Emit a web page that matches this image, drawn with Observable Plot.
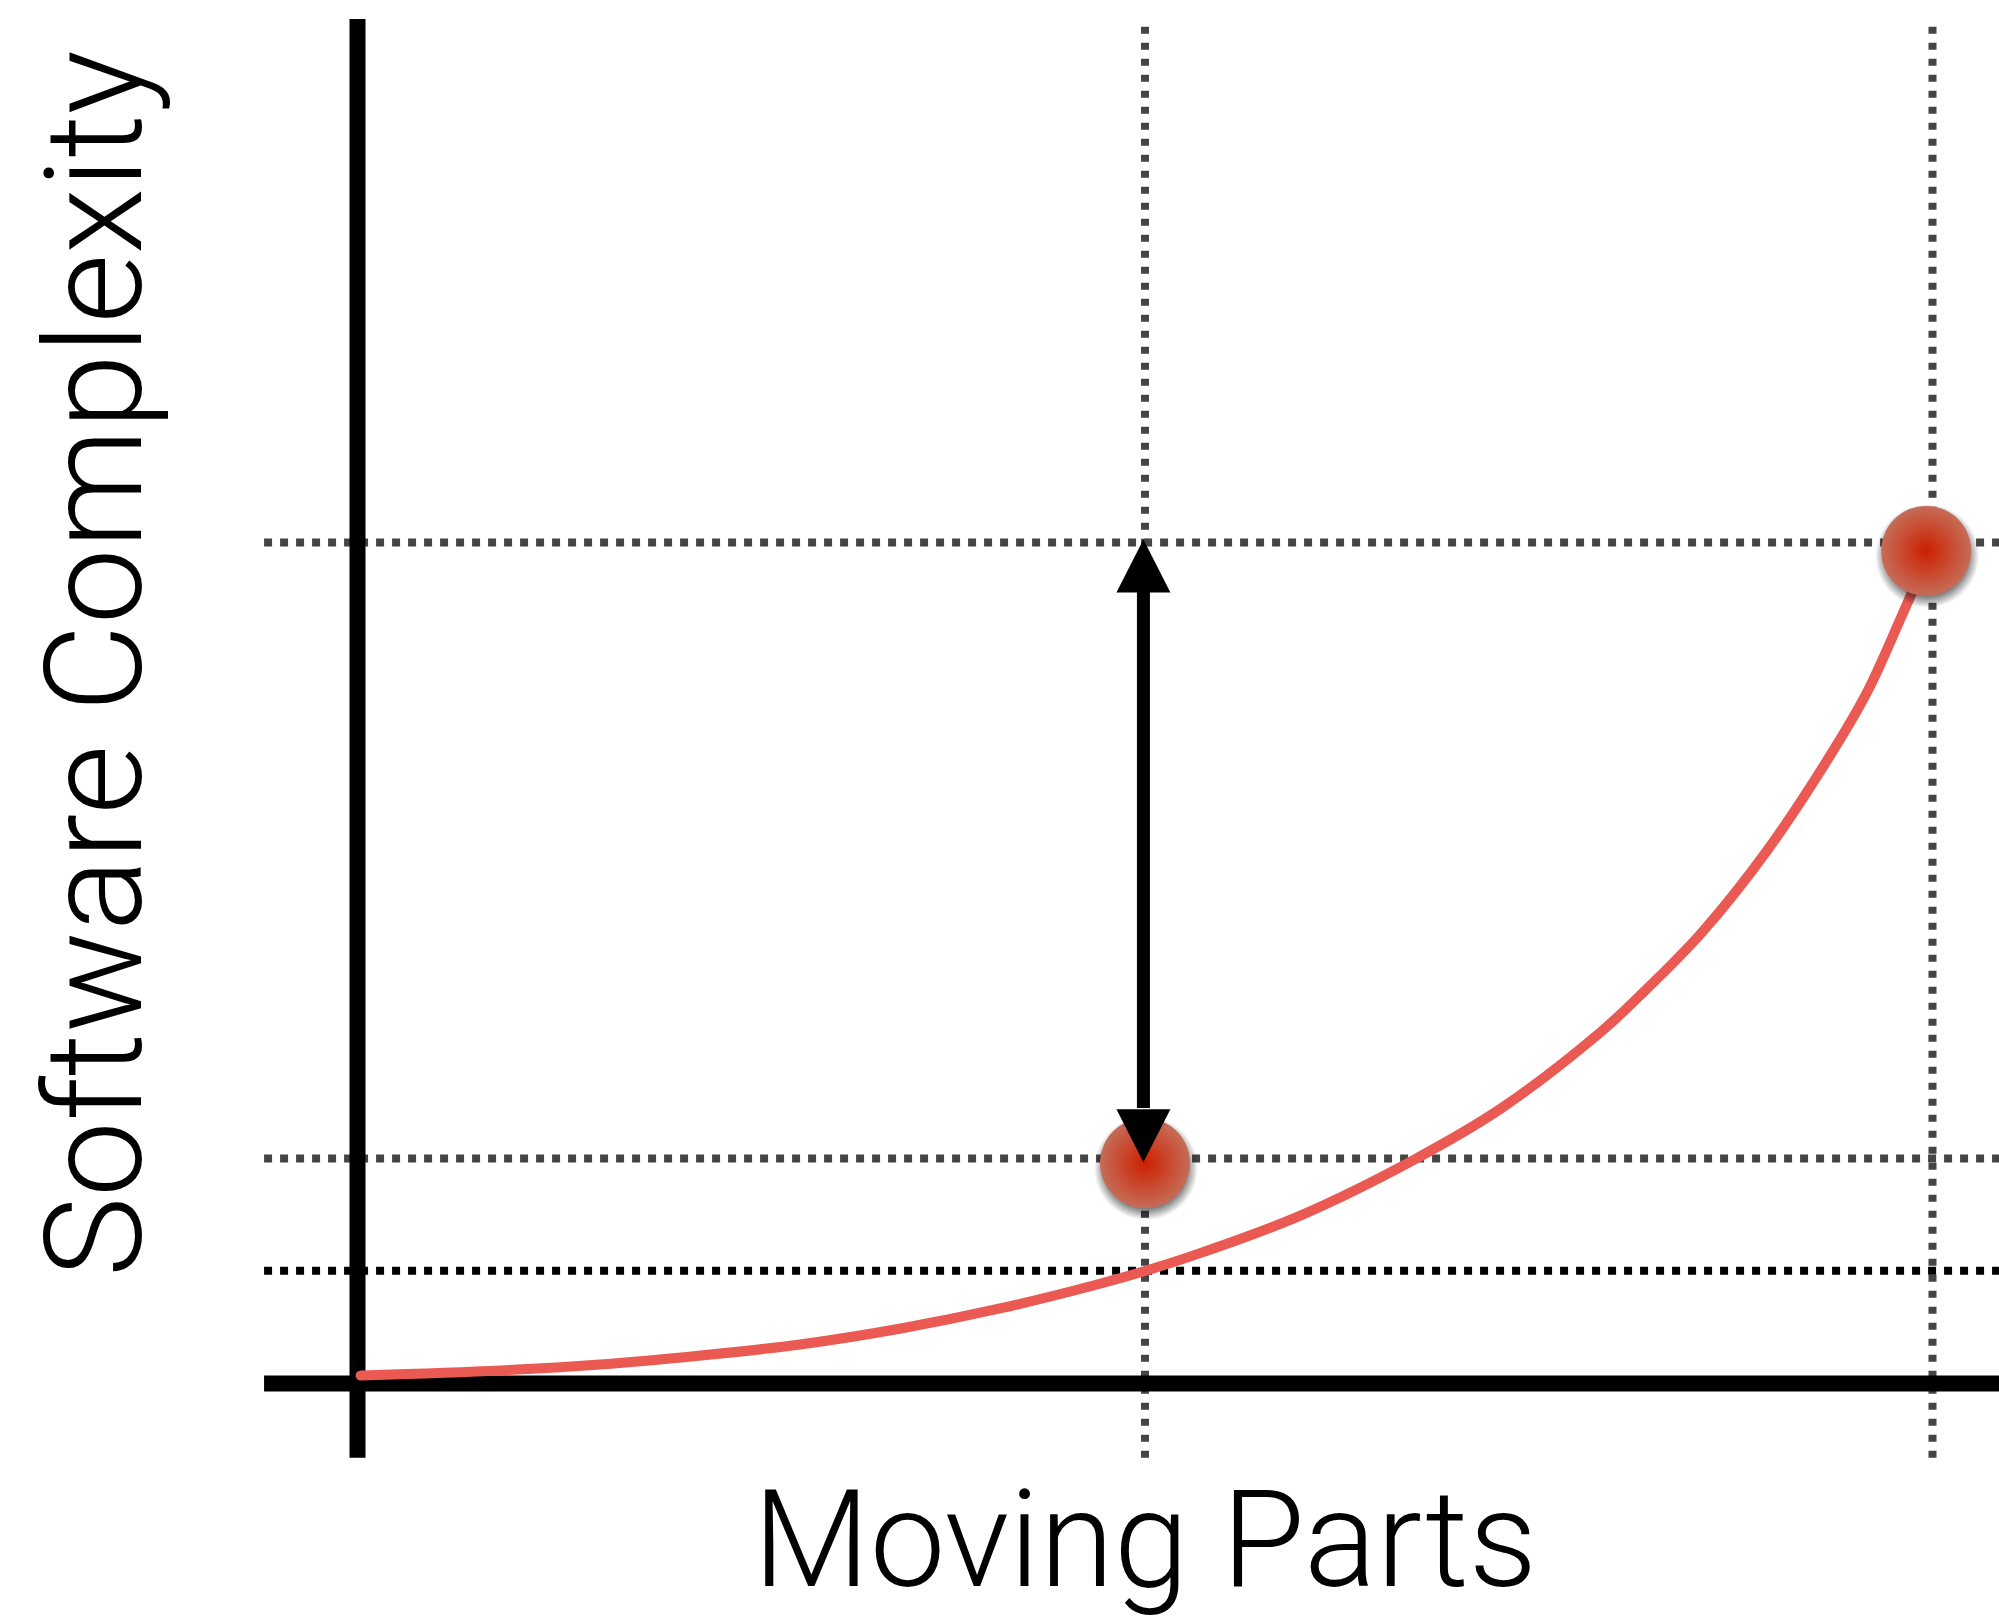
<!DOCTYPE html>
<html>
<head>
<meta charset="utf-8">
<script src="https://cdn.jsdelivr.net/npm/d3@7"></script>
<script src="https://cdn.jsdelivr.net/npm/@observablehq/plot@0.6"></script>
<style>
  html, body { margin: 0; padding: 0; background: #fff; }
  #chart svg { display: block; }
</style>
</head>
<body>
<div id="chart"></div>
<script>
// ---- data ----
const curveX = [0.02, 0.91, 1.54, 2.18, 2.81, 3.45, 4.08, 4.72, 5.01, 5.35, 5.99, 6.71, 7.26, 7.89, 8.13, 8.53, 8.95, 9.37, 9.59, 9.80, 9.87];
const curveY = [0.95, 1.55, 2.26, 3.33, 4.64, 6.54, 8.92, 11.89, 13.44, 15.5, 20.0, 26.63, 32.7, 41.74, 45.9, 53.51, 63.38, 75.27, 82.4, 91.08, 94.05];
const pointX = [5, 9.96];
const pointY = [26.2, 99];
const guideX = [5, 10];           // vertical dotted guides
const guideYGray = [100, 26.75];  // gray dotted horizontal guides
const guideYBlack = [13.4];       // black dotted horizontal guide
const arrowX = [4.99];
const arrowTop = [100.36];
const arrowBottom = [26.3];
const xLabel = ["Moving Parts"];
const yLabel = ["Software Complexity"];

const curve = curveX.map((x, i) => ({x, y: curveY[i]}));
const points = pointX.map((x, i) => ({x, y: pointY[i]}));

const triangle = {
  draw(context, l, r) {
    context.moveTo(0, -l);
    context.lineTo(-r, 0);
    context.lineTo(r, 0);
    context.closePath();
  }
};

const headLen = 53;
const labelFont = "Roboto, 'Liberation Sans', sans-serif";

const svg = Plot.plot({
  width: 1999,
  height: 1621,
  margin: 0,
  x: {domain: [0, 10], range: [357, 1932], axis: null},
  y: {domain: [0, 100], range: [1383, 542], axis: null},
  marks: [
    // dotted guides
    Plot.ruleX(guideX, {y1: -8.9, y2: 161.3, stroke: "#444", strokeWidth: 8, strokeDasharray: "7,9"}),
    Plot.ruleY(guideYGray, {x1: -0.59, x2: 10.6, stroke: "#444", strokeWidth: 8, strokeDasharray: "8,8"}),
    Plot.ruleY(guideYBlack, {x1: -0.59, x2: 10.6, stroke: "#000", strokeWidth: 8, strokeDasharray: "8,8"}),
    // axes
    Plot.ruleX([0], {y1: -8.9, y2: 162.2, stroke: "#000", strokeWidth: 16}),
    Plot.ruleY([0], {x1: -0.59, x2: 10.6, stroke: "#000", strokeWidth: 16}),
    // curve
    Plot.line(curve, {x: "x", y: "y", curve: "catmull-rom", stroke: "#ea5a53", strokeWidth: 10, strokeLinecap: "round"}),
    // point shadows + points
    Plot.dot(points, {x: "x", y: "y", dx: 1, dy: 5, r: 52, fill: "url(#shadowGrad)", stroke: "none"}),
    Plot.dot(points, {x: "x", y: "y", r: 45, fill: "url(#ballGrad)", stroke: "none"}),
    // arrow shaft
    Plot.ruleX(arrowX, {y1: arrowBottom.map(v => v + 6.4), y2: arrowTop.map(v => v - 6.2), stroke: "#000", strokeWidth: 13}),
    // arrow heads
    Plot.vector(arrowX, {x: d => d, y: arrowTop, length: headLen, r: 27, rotate: 0, anchor: "end", shape: triangle, fill: "#000", stroke: "none"}),
    Plot.vector(arrowX, {x: d => d, y: arrowBottom, length: headLen, r: 27, rotate: 180, anchor: "end", shape: triangle, fill: "#000", stroke: "none"}),
    // axis labels
    Plot.text(xLabel, {x: 5, y: -24.1, text: d => d, fontSize: 135, fontFamily: labelFont, fontWeight: 300, fill: "#000", textAnchor: "middle", lineAnchor: "bottom"}),
    Plot.text(yLabel, {x: -1.375, y: 85.6, text: d => d, rotate: -90, fontSize: 135, fontFamily: labelFont, fontWeight: 300, fill: "#000", textAnchor: "middle", lineAnchor: "bottom"})
  ]
});

// defs: gradients
const s = d3.select(svg);
const defs = s.insert("defs", ":first-child");
const g = defs.append("radialGradient").attr("id", "ballGrad").attr("cx", "50%").attr("cy", "50%").attr("r", "50%");
g.append("stop").attr("offset", "0%").attr("stop-color", "#cc2000");
g.append("stop").attr("offset", "55%").attr("stop-color", "#c94a30");
g.append("stop").attr("offset", "100%").attr("stop-color", "#c56c58");
const sg = defs.append("radialGradient").attr("id", "shadowGrad").attr("cx", "50%").attr("cy", "50%").attr("r", "50%");
sg.append("stop").attr("offset", "0%").attr("stop-color", "#000").attr("stop-opacity", 0.6);
sg.append("stop").attr("offset", "78%").attr("stop-color", "#000").attr("stop-opacity", 0.5);
sg.append("stop").attr("offset", "100%").attr("stop-color", "#000").attr("stop-opacity", 0);

document.getElementById("chart").appendChild(svg);
</script>
</body>
</html>
